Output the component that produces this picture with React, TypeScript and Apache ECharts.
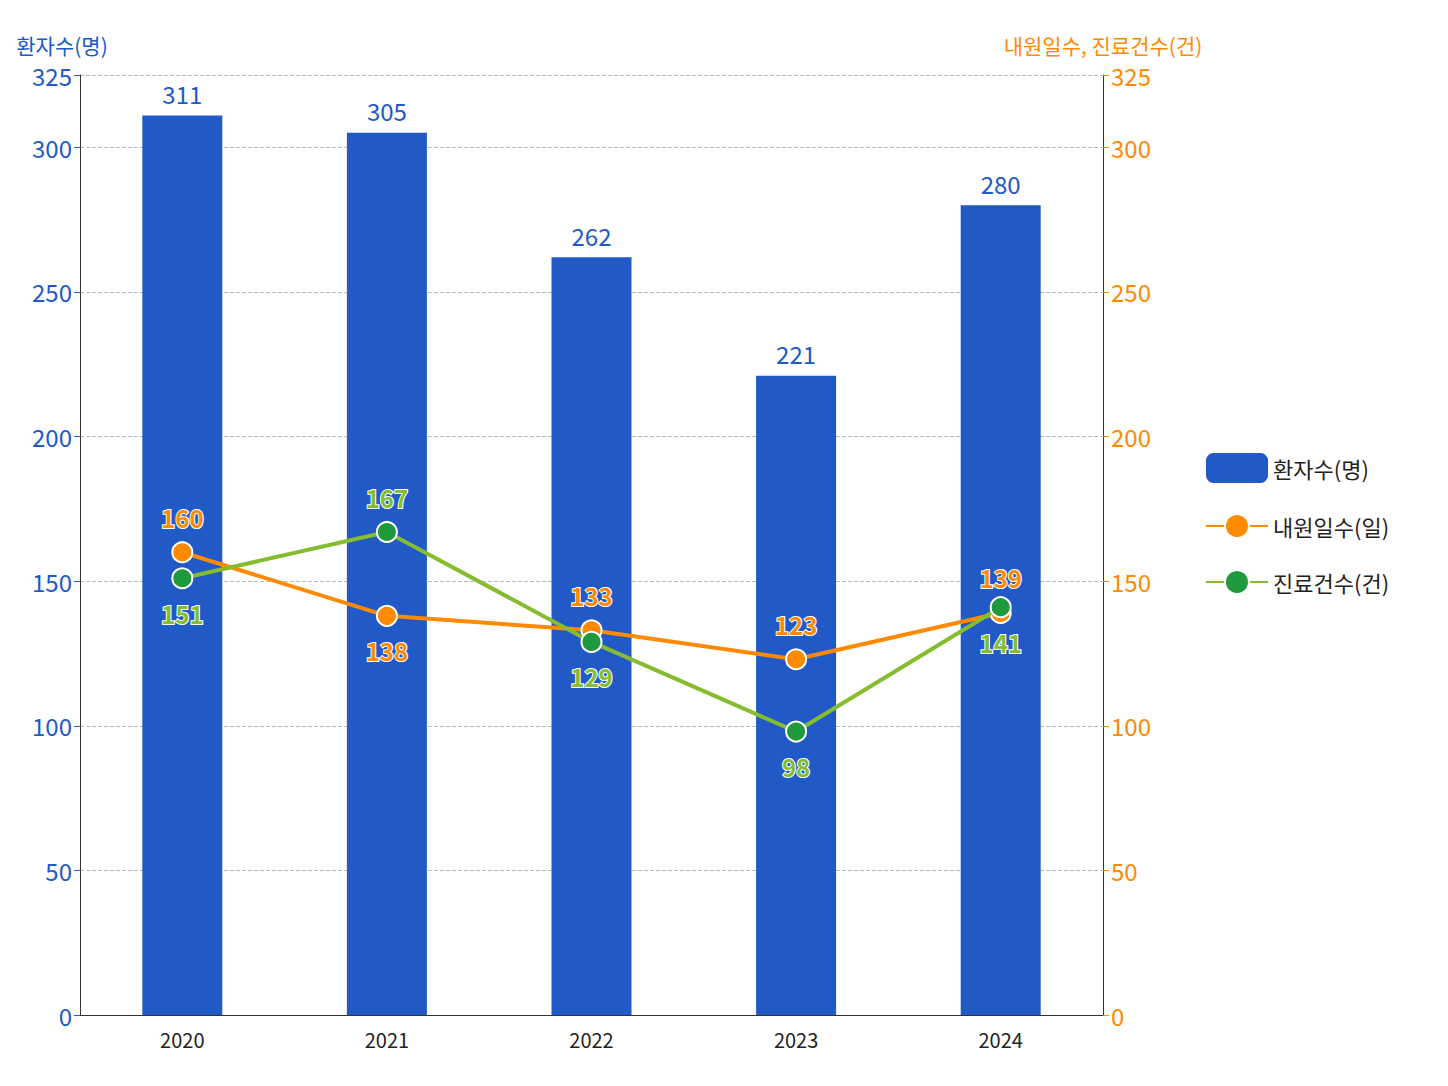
import React, { useEffect, useRef } from 'react'
import * as echarts from 'echarts'

const years = ['2020', '2021', '2022', '2023', '2024']
const patients = [311, 305, 262, 221, 280]
const visitDays = [160, 138, 133, 123, 139]
const treatments = [151, 167, 129, 98, 141]
const orangePos = ['top', 'bottom', 'top', 'top', 'top']
const greenPos = ['bottom', 'top', 'bottom', 'bottom', 'bottom']

const FONT = '"Noto Sans CJK KR", "Noto Sans", sans-serif'
const BLUE = '#2159c7'
const ORANGE = '#ff8a00'
const LGREEN = '#86bc2f'
const DGREEN = '#1e9a3c'

const App = () => {
  const chartRef = useRef<HTMLDivElement>(null)

  useEffect(() => {
    document.body.style.margin = '0'
    if (!chartRef.current) return
    const chart = echarts.init(chartRef.current, null, { renderer: 'svg' })

    const axisCommon = {
      type: 'value',
      min: 0,
      max: 325,
      interval: 50,
      nameLocation: 'end',
      nameGap: 20,
      axisLine: { show: true, lineStyle: { color: '#333' } },
      axisTick: { show: true, length: 6 },
      splitLine: { show: false },
    }

    chart.setOption({
      animation: false,
      textStyle: { fontFamily: FONT },
      grid: { left: 80, right: 345, top: 75, bottom: 71 },
      legend: {
        orient: 'vertical',
        left: 1200,
        top: 448,
        itemGap: 30,
        itemWidth: 62,
        itemHeight: 30,
        textStyle: { fontSize: 22, color: '#222', fontFamily: FONT },
        data: ['환자수(명)', '내원일수(일)', '진료건수(건)'],
      },
      xAxis: {
        type: 'category',
        data: years,
        axisLine: { lineStyle: { color: '#333' } },
        axisTick: { show: false },
        axisLabel: { fontSize: 20, color: '#222', margin: 14 },
      },
      yAxis: [
        {
          ...axisCommon,
          name: '환자수(명)',
          nameTextStyle: { color: BLUE, fontSize: 21, align: 'center', padding: [0, 0, 0, -36] },
          axisLabel: { fontSize: 24, color: BLUE },
          axisTick: { show: true, length: 6, lineStyle: { color: BLUE } },
          splitLine: { show: true, lineStyle: { type: 'dashed', color: '#bbb' } },
        },
        {
          ...axisCommon,
          name: '내원일수, 진료건수(건)',
          nameTextStyle: { color: ORANGE, fontSize: 21, align: 'center', padding: [0, 0, 0, 0] },
          axisLabel: { fontSize: 24, color: ORANGE },
          axisTick: { show: true, length: 6, lineStyle: { color: ORANGE } },
        },
      ],
      series: [
        {
          name: '환자수(명)',
          type: 'bar',
          data: patients,
          barWidth: 80,
          itemStyle: { color: BLUE },
          label: { show: true, position: 'top', fontSize: 24, color: BLUE, distance: 10 },
        },
        {
          name: '내원일수(일)',
          type: 'line',
          yAxisIndex: 1,
          data: visitDays.map((v, i) => ({
            value: v,
            label: { position: orangePos[i] },
          })),
          symbol: 'circle',
          symbolSize: 20,
          lineStyle: { color: ORANGE, width: 4 },
          itemStyle: { color: ORANGE, borderColor: '#fff', borderWidth: 2 },
          label: {
            show: true, fontSize: 24, fontWeight: 'bold', color: ORANGE, distance: 12,
            textBorderColor: '#fff', textBorderWidth: 2,
          },
          z: 3,
        },
        {
          name: '진료건수(건)',
          type: 'line',
          yAxisIndex: 1,
          data: treatments.map((v, i) => ({
            value: v,
            label: { position: greenPos[i] },
          })),
          symbol: 'circle',
          symbolSize: 20,
          lineStyle: { color: LGREEN, width: 4 },
          itemStyle: { color: DGREEN, borderColor: '#fff', borderWidth: 2 },
          label: {
            show: true, fontSize: 24, fontWeight: 'bold', color: LGREEN, distance: 12,
            textBorderColor: '#fff', textBorderWidth: 2,
          },
          z: 4,
        },
      ],
    })

    return () => chart.dispose()
  }, [])

  return <div ref={chartRef} style={{ width: 1448, height: 1086, background: '#fff' }} />
}

export default App
